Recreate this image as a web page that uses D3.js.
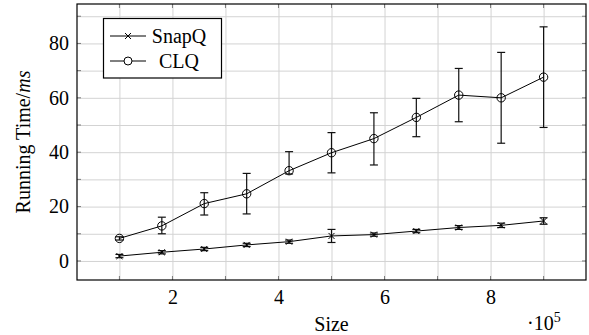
<!DOCTYPE html>
<html>
<head>
<meta charset="utf-8">
<script src="https://cdn.jsdelivr.net/npm/d3@7"></script>
<style>
body{margin:0;background:#fff;}
.grid line{stroke:#d3d3d3;stroke-width:1;}
.grid path{display:none;}
</style>
</head>
<body>
<svg id="chart" width="589" height="335"></svg>
<script>
// data (x in units of 10^5)
var sizes = [1, 1.8, 2.6, 3.4, 4.2, 5, 5.8, 6.6, 7.4, 8.2, 9];
var snapq = [1.8, 3.2, 4.4, 5.9, 7.1, 9.2, 9.7, 11.0, 12.3, 13.1, 14.7];
var snapqErr = [0.6, 0.6, 0.6, 0.6, 0.6, 2.4, 0.6, 0.6, 0.7, 0.8, 1.2];
var clq = [8.3, 12.9, 21.1, 24.7, 33.2, 39.8, 45.0, 52.8, 61.0, 60.0, 67.6];
var clqErrUp = [0.6, 3.2, 4.0, 7.5, 7.0, 7.4, 9.5, 7.0, 9.8, 16.7, 18.5];
var clqErrDown = [0.6, 2.9, 4.2, 7.4, 1.2, 7.4, 9.7, 7.1, 9.8, 16.7, 18.5];
var xTicks = [2, 4, 6, 8];
var yTicks = [0, 20, 40, 60, 80];

var FONT = "'Liberation Serif', 'Times New Roman', serif";

var svg = d3.select("#chart").style("font-family", FONT);
var L = 77, R = 586, T = 4, B = 280;

var x = d3.scaleLinear().domain([0.2, 9.8]).range([L, R]);
var y = d3.scaleLinear().domain([-7, 94.5]).range([B, T]);

// grid
svg.append("g").attr("class","grid")
	.attr("transform","translate(0,"+B+")")
	.call(d3.axisBottom(x).tickValues(d3.range(1,10)).tickSize(-(B-T)).tickFormat(""));
svg.append("g").attr("class","grid")
	.attr("transform","translate("+L+",0)")
	.call(d3.axisLeft(y).tickValues(d3.range(0,100,10)).tickSize(-(R-L)).tickFormat(""));

// small tick marks on all sides
var tk = svg.append("g").attr("stroke","#7a7a7a").attr("stroke-width",1);
d3.range(1,10).forEach(function(v){
	tk.append("line").attr("x1",x(v)).attr("x2",x(v)).attr("y1",T).attr("y2",T+4);
	tk.append("line").attr("x1",x(v)).attr("x2",x(v)).attr("y1",B).attr("y2",B-4);
});
d3.range(0,100,10).forEach(function(v){
	tk.append("line").attr("x1",L).attr("x2",L+4).attr("y1",y(v)).attr("y2",y(v));
	tk.append("line").attr("x1",R).attr("x2",R-4).attr("y1",y(v)).attr("y2",y(v));
});

// frame
svg.append("rect").attr("x",L).attr("y",T).attr("width",R-L).attr("height",B-T)
	.attr("fill","none").attr("stroke","#000").attr("stroke-width",1.2);

// tick labels
var xa = svg.append("g").attr("transform","translate(0,"+B+")")
	.call(d3.axisBottom(x).tickValues(xTicks).tickSize(0).tickPadding(10).tickFormat(d3.format("d")));
xa.style("font-family",FONT).attr("font-size",20);
xa.select(".domain").remove();
xa.selectAll("text").attr("fill","#000");

var ya = svg.append("g").attr("transform","translate("+L+",0)")
	.call(d3.axisLeft(y).tickValues(yTicks).tickSize(0).tickPadding(8).tickFormat(d3.format("d")));
ya.style("font-family",FONT).attr("font-size",20);
ya.select(".domain").remove();
ya.selectAll("text").attr("fill","#000");

// axis labels
svg.append("text").attr("x",(L+R)/2).attr("y",331).attr("text-anchor","middle")
	.attr("font-size",20).text("Size");
var ex = svg.append("text").attr("x",527).attr("y",330).attr("font-size",20);
ex.append("tspan").text("\u00b710");
ex.append("tspan").attr("font-size",14).attr("dy",-8).text("5");

var yl = svg.append("text").attr("transform","translate(30,"+((T+B)/2)+") rotate(-90)")
	.attr("text-anchor","middle").attr("font-size",20);
yl.append("tspan").text("Running Time/");
yl.append("tspan").attr("font-style","italic").text("ms");

// error bars
function errBars(vals, up, down){
	var g = svg.append("g").attr("stroke","#111").attr("stroke-width",1.2);
	sizes.forEach(function(s,i){
		var cx = x(s), y1 = y(vals[i]+up[i]), y2 = y(vals[i]-down[i]);
		g.append("line").attr("x1",cx).attr("x2",cx).attr("y1",y1).attr("y2",y2);
		g.append("line").attr("x1",cx-4).attr("x2",cx+4).attr("y1",y1).attr("y2",y1);
		g.append("line").attr("x1",cx-4).attr("x2",cx+4).attr("y1",y2).attr("y2",y2);
	});
}
errBars(snapq, snapqErr, snapqErr);
errBars(clq, clqErrUp, clqErrDown);

var line = d3.line().x(function(d,i){return x(sizes[i]);}).y(function(d){return y(d);});
svg.append("path").datum(snapq).attr("d",line).attr("fill","none").attr("stroke","#000").attr("stroke-width",1);
svg.append("path").datum(clq).attr("d",line).attr("fill","none").attr("stroke","#000").attr("stroke-width",1);

// markers
function cross(g, cx, cy){
	g.append("path").attr("d","M"+(cx-3)+","+(cy-3)+"L"+(cx+3)+","+(cy+3)+"M"+(cx-3)+","+(cy+3)+"L"+(cx+3)+","+(cy-3))
		.attr("stroke","#000").attr("stroke-width",1);
}
var mk = svg.append("g");
sizes.forEach(function(s,i){ cross(mk, x(s), y(snapq[i])); });
mk.selectAll("circle").data(clq).enter().append("circle")
	.attr("cx",function(d,i){return x(sizes[i]);})
	.attr("cy",function(d){return y(d);})
	.attr("r",4.2).attr("fill","none").attr("stroke","#000").attr("stroke-width",1);

// legend
var lg = svg.append("g");
lg.append("rect").attr("x",103.5).attr("y",18.5).attr("width",118).attr("height",59.5)
	.attr("fill","#fff").attr("stroke","#000").attr("stroke-width",1.2);
lg.append("line").attr("x1",110).attr("x2",146).attr("y1",36).attr("y2",36).attr("stroke","#000");
cross(lg, 128, 36);
lg.append("line").attr("x1",110).attr("x2",146).attr("y1",61).attr("y2",61).attr("stroke","#000");
lg.append("circle").attr("cx",128).attr("cy",61).attr("r",4).attr("fill","#fff").attr("stroke","#000");
lg.append("text").attr("x",179).attr("y",42.5).attr("text-anchor","middle").attr("font-size",20).text("SnapQ");
lg.append("text").attr("x",179).attr("y",68).attr("text-anchor","middle").attr("font-size",20).text("CLQ");
</script>
</body>
</html>
